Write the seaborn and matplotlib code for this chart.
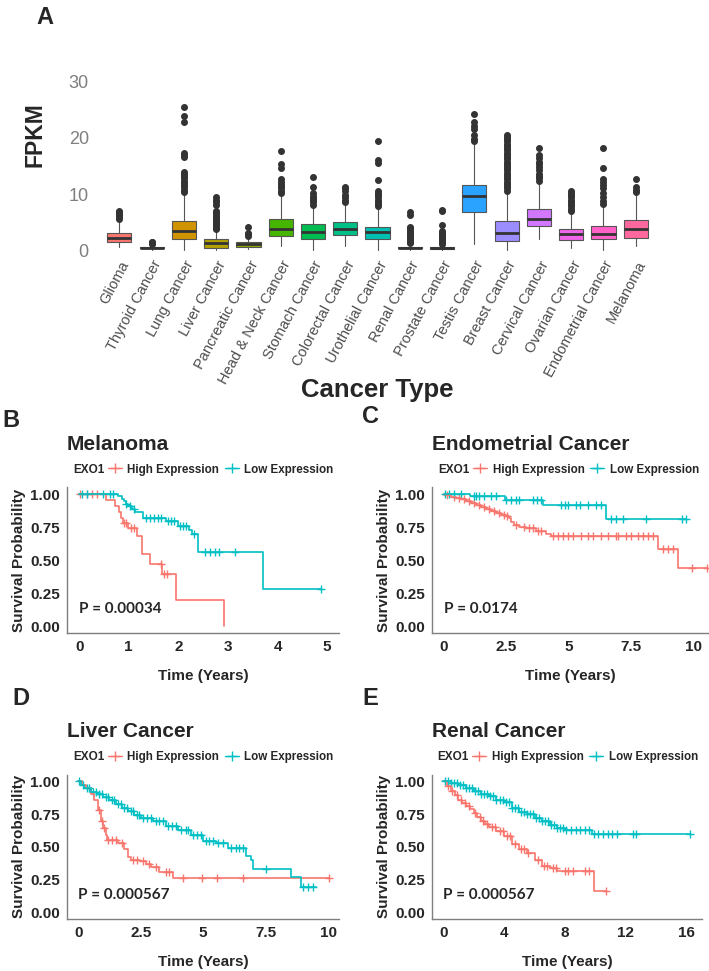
import numpy as np
import matplotlib
matplotlib.use("Agg")
import matplotlib.pyplot as plt
import seaborn as sns
from matplotlib.lines import Line2D

# === Panel A data: EXO1 FPKM per cancer type ===
cats = ["Glioma", "Thyroid Cancer", "Lung Cancer", "Liver Cancer", "Pancreatic Cancer",
        "Head & Neck Cancer", "Stomach Cancer", "Colorectal Cancer", "Urothelial Cancer",
        "Renal Cancer", "Prostate Cancer", "Testis Cancer", "Breast Cancer",
        "Cervical Cancer", "Ovarian Cancer", "Endometrial Cancer", "Melanoma"]
q1 = [1.4, 0.3, 1.9, 0.45, 0.6, 2.55, 2.05, 2.7, 1.9, 0.3, 0.2, 6.8, 1.6, 4.3, 1.75, 1.9, 2.15]
med = [2.15, 0.45, 3.35, 1.2, 1.0, 3.85, 3.3, 3.75, 3.2, 0.45, 0.4, 9.7, 3.0, 5.6, 2.85, 2.85, 3.75]
q3 = [3.0, 0.6, 5.2, 2.0, 1.4, 5.6, 4.7, 5.0, 4.15, 0.6, 0.55, 11.7, 5.2, 7.4, 3.75, 4.25, 5.3]
wlo = [0.6, 0.05, 0.0, 0.0, 0.2, 0.7, 0.0, 0.7, 0.0, 0.0, 0.0, 1.0, 0.0, 1.9, 0.3, 0.0, 0.7]
whi = [5.3, 1.0, 10.1, 3.5, 2.4, 9.8, 7.8, 8.2, 7.5, 1.0, 0.9, 18.9, 10.4, 12.1, 6.7, 7.8, 9.8]
fliers = [
    [5.6, 5.9, 6.2, 6.5, 6.8, 7.0],
    [1.1, 1.25, 1.4, 1.5],
    [10.4, 10.8, 11.2, 11.6, 12.0, 12.4, 12.8, 13.2, 13.6, 14.0, 16.6, 17.0, 17.4, 22.9, 23.9, 25.5],
    [3.7, 4.0, 4.3, 4.6, 4.9, 5.2, 5.5, 5.8, 6.1, 6.4, 6.8, 7.0, 8.0, 8.5, 9.0, 9.4],
    [2.6, 2.8, 3.0, 4.2],
    [10.2, 10.6, 11.0, 11.4, 11.8, 12.2, 12.6, 14.6, 15.3, 17.6],
    [8.1, 8.5, 8.9, 9.3, 9.7, 10.1, 11.3, 13.0],
    [8.6, 9.0, 9.4, 9.8, 10.6, 11.0, 11.3],
    [7.8, 8.2, 8.6, 9.0, 9.4, 9.8, 10.2, 10.6, 12.5, 15.6, 16.0, 19.5],
    [1.2, 1.5, 1.8, 2.1, 2.4, 2.7, 3.0, 3.3, 3.6, 3.9, 4.2, 6.3, 6.8],
    [1.0, 1.3, 1.6, 1.9, 2.2, 2.5, 2.8, 3.1, 3.4, 4.5, 6.9, 7.2],
    [19.5, 19.9, 20.6, 21.6, 22.2, 22.8, 24.3],
    [10.6, 11.0, 11.4, 11.8, 12.2, 12.6, 13.0, 13.4, 13.8, 14.2, 14.6, 15.0, 15.4, 15.8,
     16.2, 16.6, 17.0, 17.4, 17.8, 18.2, 18.6, 19.0, 19.4, 19.8, 20.2, 20.5],
    [12.4, 12.8, 13.2, 13.6, 14.2, 14.8, 15.3, 15.8, 16.4, 16.9, 18.3],
    [7.0, 7.4, 7.8, 8.2, 8.6, 9.0, 9.4, 9.8, 10.2, 10.6],
    [8.3, 8.7, 9.4, 10.2, 11.0, 11.6, 12.2, 12.6, 14.7, 18.3],
    [10.4, 10.8, 11.2, 12.6],
]

# === Kaplan-Meier curves (step times / survival, censor times) ===
# B: Melanoma
mel_hi_t = [0, 0.54, 0.72, 0.81, 0.84, 0.88, 0.99, 1.16, 1.27, 1.42, 1.67, 1.96, 2.92]
mel_hi_s = [1.0, 0.955, 0.91, 0.865, 0.82, 0.785, 0.74, 0.68, 0.55, 0.475, 0.395, 0.20, 0.0]
mel_hi_c = [0.02, 0.15, 0.25, 0.35, 0.9, 0.95, 1.05, 1.1, 1.65, 1.72, 1.78]
mel_lo_t = [0, 0.79, 0.86, 0.90, 0.94, 0.99, 1.06, 1.12, 1.29, 1.75, 1.99, 2.22, 2.28, 2.39, 3.70, 4.87]
mel_lo_s = [1.0, 0.985, 0.965, 0.945, 0.925, 0.91, 0.89, 0.865, 0.82, 0.795, 0.76, 0.73, 0.70, 0.56, 0.28, 0.28]
mel_lo_c = [0.05, 0.15, 0.48, 0.62, 0.69, 0.95, 1.02, 1.1, 1.35, 1.42, 1.5, 1.58, 1.65, 1.8, 1.86,
            1.92, 2.04, 2.1, 2.16, 2.31, 2.53, 2.63, 2.73, 2.83, 3.15, 4.87]

# C: Endometrial Cancer
end_hi_t = [0, 0.1, 0.3, 0.5, 0.7, 0.9, 1.1, 1.3, 1.5, 1.7, 1.9, 2.1, 2.3, 2.5, 2.6, 2.7, 2.8,
            3.0, 3.3, 3.7, 4.1, 4.3, 8.6, 9.4, 10.55]
end_hi_s = [1.0, 0.99, 0.98, 0.97, 0.96, 0.945, 0.93, 0.915, 0.905, 0.89, 0.875, 0.86, 0.845,
            0.835, 0.82, 0.79, 0.77, 0.75, 0.74, 0.72, 0.70, 0.685, 0.585, 0.44, 0.44]
end_hi_c = [0.15, 0.4, 0.6, 0.8, 1.0, 1.2, 1.4, 1.6, 1.8, 2.0, 2.2, 2.4, 2.55, 2.9, 3.2, 3.4, 3.6,
            3.8, 3.9, 4.4, 4.6, 4.8, 5.0, 5.2, 5.5, 5.8, 6.0, 6.3, 6.6, 6.9, 7.0, 7.3, 7.5, 7.8,
            8.0, 8.2, 8.4, 8.8, 9.0, 9.2, 9.95, 10.55]
end_lo_t = [0, 1.04, 2.46, 3.97, 6.49, 9.7]
end_lo_s = [1.0, 0.985, 0.955, 0.92, 0.81, 0.81]
end_lo_c = [0.05, 0.2, 0.4, 0.7, 1.2, 1.3, 1.4, 1.6, 1.9, 2.1, 2.5, 2.7, 2.9, 3.0, 3.6, 3.75, 3.9,
            4.7, 4.85, 5.0, 5.3, 5.45, 5.8, 6.1, 6.3, 6.7, 6.9, 7.2, 8.1, 9.55, 9.7]

# D: Liver Cancer
liv_hi_t = [0, 0.15, 0.3, 0.5, 0.65, 0.8, 0.9, 1.0, 1.1, 1.15, 1.6, 1.83, 2.0, 2.13, 2.47,
            2.73, 2.93, 3.24, 3.8, 10.05]
liv_hi_s = [1.0, 0.97, 0.95, 0.90, 0.86, 0.78, 0.70, 0.64, 0.59, 0.555, 0.53, 0.48, 0.42,
            0.40, 0.39, 0.37, 0.345, 0.31, 0.26, 0.26]
liv_hi_c = [0.85, 0.95, 1.05, 1.2, 1.35, 1.5, 1.75, 2.2, 2.35, 2.6, 2.85, 3.1, 3.5, 3.65, 4.2,
            4.95, 5.55, 6.6, 10.05]
liv_lo_t = [0, 0.1, 0.25, 0.5, 0.75, 1.0, 1.25, 1.5, 1.75, 2.0, 2.25, 2.5, 3.0, 3.5, 4.0, 4.5,
            5.0, 5.5, 6.0, 6.7, 6.9, 7.0, 8.5, 8.9, 9.5]
liv_lo_s = [1.0, 0.97, 0.95, 0.92, 0.90, 0.88, 0.855, 0.83, 0.80, 0.77, 0.745, 0.72, 0.70,
            0.66, 0.63, 0.59, 0.545, 0.53, 0.49, 0.43, 0.40, 0.33, 0.265, 0.19, 0.19]
liv_lo_c = [0.05, 0.2, 0.35, 0.45, 0.6, 0.7, 0.85, 0.95, 1.1, 1.2, 1.35, 1.45, 1.6, 1.7, 1.85,
            1.95, 2.1, 2.2, 2.35, 2.45, 2.6, 2.75, 2.9, 3.1, 3.25, 3.4, 3.6, 3.75, 3.9, 4.1,
            4.3, 4.4, 4.6, 4.75, 4.9, 5.1, 5.25, 5.4, 5.6, 5.8, 6.1, 6.3, 6.45, 6.6, 7.5, 9.0,
            9.2, 9.4]

# E: Renal Cancer
ren_hi_t = [0, 0.25, 0.5, 0.75, 1.0, 1.25, 1.5, 1.75, 2.0, 2.25, 2.5, 2.75, 3.0, 3.5, 4.0,
            4.5, 5.0, 5.5, 6.0, 6.5, 7.0, 7.5, 9.9, 10.7]
ren_hi_s = [1.0, 0.965, 0.93, 0.895, 0.86, 0.835, 0.81, 0.785, 0.76, 0.73, 0.70, 0.675, 0.65,
            0.62, 0.58, 0.52, 0.48, 0.45, 0.40, 0.35, 0.335, 0.315, 0.16, 0.16]
ren_hi_c = [0.3, 0.6, 0.9, 1.2, 1.4, 1.7, 2.1, 2.4, 2.6, 2.9, 3.2, 3.4, 3.7, 3.9, 4.2, 4.4,
            4.7, 5.1, 5.3, 5.6, 6.2, 6.6, 6.8, 7.2, 7.4, 8.0, 8.2, 8.5, 9.3, 9.6, 10.7]
ren_lo_t = [0, 0.5, 1.0, 1.5, 2.0, 2.5, 3.0, 3.5, 4.0, 4.5, 5.0, 5.5, 6.0, 6.5, 7.0, 7.5, 8.0,
            9.8, 16.2]
ren_lo_s = [1.0, 0.985, 0.97, 0.95, 0.93, 0.905, 0.885, 0.86, 0.84, 0.80, 0.765, 0.75, 0.72,
            0.695, 0.67, 0.64, 0.625, 0.60, 0.60]
ren_lo_c = [0.1, 0.3, 0.5, 0.7, 0.9, 1.1, 1.3, 1.5, 1.7, 1.9, 2.1, 2.3, 2.5, 2.7, 2.9, 3.1,
            3.3, 3.5, 3.7, 3.9, 4.1, 4.3, 4.5, 4.7, 4.9, 5.1, 5.3, 5.5, 5.7, 5.9, 6.1, 6.3,
            6.5, 6.7, 6.9, 7.1, 7.3, 7.5, 7.7, 7.9, 8.1, 8.4, 8.7, 9.0, 9.3, 9.6, 9.9, 10.2,
            10.5, 10.8, 11.1, 11.4, 12.5, 12.7, 16.2]

RED = "#F8766D"
CYAN = "#00BFC4"


def hcl_hex(h, c=100.0, l=65.0):
    # ggplot2 default hue palette colour (polar LUV -> sRGB)
    hr = np.deg2rad(h)
    U, V = c * np.cos(hr), c * np.sin(hr)
    xn, yn, zn = 95.047, 100.0, 108.883
    den = xn + 15 * yn + 3 * zn
    un, vn = 4 * xn / den, 9 * yn / den
    Y = yn * ((l + 16) / 116) ** 3
    u, v = U / (13 * l) + un, V / (13 * l) + vn
    X = 9 * Y * u / (4 * v)
    Z = -X / 3 - 5 * Y + 3 * Y / v
    M = np.array([[3.240479, -1.537150, -0.498535],
                  [-0.969256, 1.875992, 0.041556],
                  [0.055648, -0.204043, 1.057311]])
    rgb = M @ (np.array([X, Y, Z]) / 100)
    rgb = np.where(rgb > 0.0031308, 1.055 * np.abs(rgb) ** (1 / 2.4) - 0.055, 12.92 * rgb)
    rgb = np.clip(rgb, 0, 1)
    return matplotlib.colors.to_hex(rgb)


n = len(cats)
palette = [hcl_hex(15 + 360 * i / n) for i in range(n)]

sns.set_theme(style="white")
plt.rcParams['font.family'] = ['Liberation Sans', 'DejaVu Sans']

fig = plt.figure(figsize=(7.09, 9.71), dpi=100)

# ---------- Panel A: boxplot ----------
axA = fig.add_axes([0.141, 0.7355, 0.783, 0.2523])
stats = []
for i in range(n):
    stats.append(dict(med=med[i], q1=q1[i], q3=q3[i], whislo=wlo[i], whishi=whi[i], fliers=fliers[i]))
bp = axA.bxp(stats, positions=range(n), widths=0.75, patch_artist=True,
             medianprops=dict(color="#333333", lw=2),
             whiskerprops=dict(color="#555555", lw=0.8),
             capprops=dict(visible=False),
             boxprops=dict(edgecolor="#555555", lw=0.8),
             flierprops=dict(marker='o', markersize=4, markerfacecolor="#333333",
                             markeredgecolor="#333333"))
for patch, col in zip(bp['boxes'], palette):
    patch.set_facecolor(col)
axA.set_xlim(-0.6, n - 0.4)
axA.set_ylim(-1.2, 42.5)
axA.set_yticks([0, 10, 20, 30])
axA.set_xticks(range(n))
axA.set_xticklabels(cats, rotation=62, ha='right', rotation_mode='anchor',
                    fontsize=10.5, color="#4D4D4D")
axA.tick_params(axis='y', labelsize=13, labelcolor="#7F7F7F", length=0, pad=8)
axA.tick_params(axis='x', length=0, pad=1)
for s in axA.spines.values():
    s.set_visible(False)
axA.set_ylabel("FPKM", fontsize=16.5, fontweight='bold', labelpad=16)
axA.set_xlabel("Cancer Type", fontsize=18.5, fontweight='bold', va='center')
axA.xaxis.set_label_coords(0.5, -0.545)
fig.text(0.052, 0.994, "A", fontsize=17, fontweight='bold', va='top')


# ---------- KM panels ----------
def km_panel(ax, title, hi_t, hi_s, hi_c, lo_t, lo_s, lo_c, xlim, xticks, xticklabels, pval):
    for t, s, c, col in [(hi_t, hi_s, hi_c, RED), (lo_t, lo_s, lo_c, CYAN)]:
        sns.lineplot(x=t, y=s, drawstyle='steps-post', estimator=None, sort=False,
                     color=col, lw=1.2, ax=ax)
        idx = np.searchsorted(t, c, side='right') - 1
        cs = np.array(s)[idx]
        sns.scatterplot(x=c, y=cs, marker='+', s=35, color=col, linewidth=1.0, ax=ax)
    ax.set_xlim(*xlim)
    ax.set_ylim(-0.05, 1.05)
    ax.set_yticks([0, 0.25, 0.5, 0.75, 1.0])
    ax.set_yticklabels(["0.00", "0.25", "0.50", "0.75", "1.00"])
    ax.set_xticks(xticks)
    ax.set_xticklabels(xticklabels)
    ax.tick_params(labelsize=11, length=3, width=0.8, color="#7F7F7F", pad=2)
    for lab in ax.get_xticklabels() + ax.get_yticklabels():
        lab.set_fontweight('bold')
    for side in ['top', 'right']:
        ax.spines[side].set_visible(False)
    for side in ['left', 'bottom']:
        ax.spines[side].set_color("#7F7F7F")
        ax.spines[side].set_linewidth(1.0)
    ax.set_xlabel("Time (Years)", fontsize=11, fontweight='bold', labelpad=11)
    ax.set_ylabel("Survival Probability", fontsize=11, fontweight='bold', labelpad=3)
    ax.set_title(title, fontsize=15, fontweight='bold', loc='left', x=0.0, pad=27)
    ax.text(0.0, 0.13, f"P = {pval}", transform=ax.transData,
            fontsize=11, fontweight='bold', family=['Lato', 'DejaVu Sans'], va='center')
    # inline ggplot-style legend above the panel
    ax.text(0.022, 1.123, "EXO1", transform=ax.transAxes, fontsize=8.5, fontweight='bold',
            va='center', ha='left')
    handles = [Line2D([], [], color=RED, marker='+', lw=1.0, markersize=7),
               Line2D([], [], color=CYAN, marker='+', lw=1.0, markersize=7)]
    ax.legend(handles, ["High Expression", "Low Expression"], ncol=2, frameon=False,
              loc='center left', bbox_to_anchor=(0.15, 1.123), handlelength=1.2,
              handletextpad=0.45, columnspacing=0.5, prop=dict(weight='bold', size=8.4),
              borderaxespad=0, borderpad=0)


axB = fig.add_axes([0.0945, 0.348, 0.384, 0.150])
km_panel(axB, "Melanoma", mel_hi_t, mel_hi_s, mel_hi_c, mel_lo_t, mel_lo_s, mel_lo_c,
         (-0.245, 5.245), [0, 1, 2, 3, 4, 5], ["0", "1", "2", "3", "4", "5"], "0.00034")

axC = fig.add_axes([0.609, 0.348, 0.391, 0.150])
km_panel(axC, "Endometrial Cancer", end_hi_t, end_hi_s, end_hi_c, end_lo_t, end_lo_s, end_lo_c,
         (-0.48, 10.64), [0, 2.5, 5, 7.5, 10], ["0", "2.5", "5", "7.5", "10"], "0.0174")

axD = fig.add_axes([0.0945, 0.054, 0.384, 0.148])
km_panel(axD, "Liver Cancer", liv_hi_t, liv_hi_s, liv_hi_c, liv_lo_t, liv_lo_s, liv_lo_c,
         (-0.45, 10.45), [0, 2.5, 5, 7.5, 10], ["0", "2.5", "5", "7.5", "10"], "0.000567")

axE = fig.add_axes([0.609, 0.054, 0.381, 0.148])
km_panel(axE, "Renal Cancer", ren_hi_t, ren_hi_s, ren_hi_c, ren_lo_t, ren_lo_s, ren_lo_c,
         (-0.75, 17.0), [0, 4, 8, 12, 16], ["0", "4", "8", "12", "16"], "0.000567")

for lab, x, y in [("B", 0.004, 0.567), ("C", 0.511, 0.571), ("D", 0.018, 0.281), ("E", 0.511, 0.281)]:
    fig.text(x, y, lab, fontsize=17, fontweight='bold', va='center')

fig.savefig("out.png", dpi=100)
